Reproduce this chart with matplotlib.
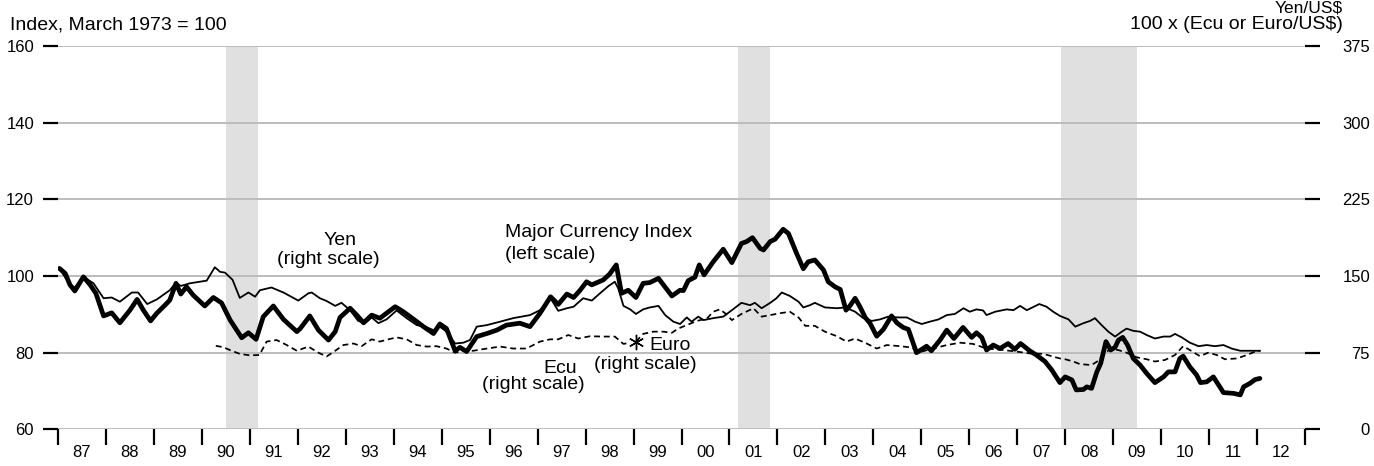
import matplotlib
matplotlib.use("Agg")
import matplotlib.pyplot as plt

plt.rcParams["font.family"] = ["Liberation Sans", "DejaVu Sans"]

# Major Currency Index (left scale, March 1973 = 100)
mci_dates = [1987.03, 1987.15, 1987.25, 1987.35, 1987.53, 1987.67, 1987.79, 1987.95,
             1988.12, 1988.29, 1988.50, 1988.65, 1988.78, 1988.93, 1989.06, 1989.23,
             1989.33, 1989.46, 1989.56, 1989.68, 1989.82, 1990.06, 1990.24, 1990.41,
             1990.59, 1990.83, 1990.97, 1991.13, 1991.28, 1991.49, 1991.70, 1991.98,
             1992.05, 1992.25, 1992.43, 1992.64, 1992.78, 1992.88, 1993.09, 1993.23,
             1993.37, 1993.54, 1993.71, 1994.03, 1994.20, 1994.44, 1994.62, 1994.83,
             1994.96, 1995.10, 1995.28, 1995.38, 1995.52, 1995.73, 1995.94, 1996.15,
             1996.35, 1996.63, 1996.84, 1997.05, 1997.27, 1997.43, 1997.61, 1997.75,
             1997.88, 1998.02, 1998.13, 1998.37, 1998.50, 1998.64, 1998.75, 1998.89,
             1999.05, 1999.20, 1999.34, 1999.52, 1999.80, 1999.97, 2000.04, 2000.14,
             2000.28, 2000.37, 2000.47, 2000.66, 2000.87, 2001.05, 2001.25, 2001.36,
             2001.48, 2001.64, 2001.71, 2001.85, 2001.95, 2002.12, 2002.23, 2002.40,
             2002.54, 2002.64, 2002.78, 2002.96, 2003.06, 2003.20, 2003.31, 2003.43,
             2003.51, 2003.62, 2003.72, 2003.83, 2003.93, 2004.07, 2004.21, 2004.38,
             2004.49, 2004.62, 2004.73, 2004.90, 2005.01, 2005.11, 2005.21, 2005.39,
             2005.53, 2005.68, 2005.87, 2006.05, 2006.15, 2006.26, 2006.36, 2006.50,
             2006.64, 2006.81, 2006.95, 2007.07, 2007.26, 2007.40, 2007.58, 2007.72,
             2007.89, 2008.00, 2008.14, 2008.23, 2008.38, 2008.45, 2008.55, 2008.66,
             2008.74, 2008.85, 2008.95, 2009.04, 2009.11, 2009.20, 2009.30, 2009.42,
             2009.56, 2009.70, 2009.87, 2010.05, 2010.15, 2010.29, 2010.39, 2010.46,
             2010.60, 2010.74, 2010.82, 2010.95, 2011.09, 2011.30, 2011.51, 2011.65,
             2011.72, 2011.85, 2011.96, 2012.06]
mci_values = [102.0, 100.7, 97.7, 96.1, 99.8, 97.7, 95.5, 89.6,
              90.4, 87.8, 91.1, 93.9, 91.1, 88.3, 90.3, 92.4,
              93.7, 98.1, 95.3, 97.2, 95.0, 92.2, 94.4, 93.0,
              88.5, 83.9, 85.2, 83.5, 89.4, 92.2, 88.7, 85.5,
              86.3, 89.6, 85.9, 83.3, 85.5, 89.2, 91.6, 89.8,
              87.8, 89.8, 89.0, 92.0, 90.7, 88.5, 86.8, 85.0,
              87.5, 86.3, 80.5, 81.4, 80.3, 84.2, 85.0, 85.9,
              87.2, 87.7, 86.8, 90.3, 94.6, 92.6, 95.3, 94.4,
              96.2, 98.5, 97.7, 99.0, 100.5, 102.9, 95.5, 96.3,
              94.4, 98.1, 98.3, 99.4, 94.8, 96.3, 96.2, 98.8,
              99.7, 102.9, 100.3, 103.7, 107.0, 103.5, 108.5, 109.0,
              110.0, 107.2, 106.8, 109.0, 109.6, 112.2, 111.1, 105.9,
              101.9, 103.7, 104.2, 101.6, 98.5, 97.2, 96.5, 91.1,
              92.2, 94.2, 92.0, 89.2, 87.7, 84.3, 86.1, 89.6,
              87.8, 86.6, 86.1, 80.0, 80.9, 81.7, 80.5, 83.3,
              85.9, 83.7, 86.6, 84.0, 85.2, 84.0, 80.7, 82.0,
              81.1, 82.4, 80.9, 82.4, 80.5, 79.4, 77.7, 75.5,
              72.2, 73.7, 72.9, 70.3, 70.4, 71.1, 70.7, 75.0,
              77.2, 82.9, 80.7, 81.4, 83.3, 84.0, 82.0, 78.5,
              76.8, 74.6, 72.2, 73.7, 75.0, 75.0, 78.5, 79.1,
              76.3, 74.2, 72.2, 72.4, 73.7, 69.6, 69.4, 69.0,
              71.1, 72.0, 73.0, 73.3]

# Yen per US dollar (right scale)
yen_dates = [1987.03, 1987.25, 1987.35, 1987.53, 1987.74, 1987.95, 1988.12, 1988.29,
             1988.54, 1988.67, 1988.86, 1989.06, 1989.33, 1989.46, 1989.56, 1989.75,
             1990.10, 1990.27, 1990.38, 1990.48, 1990.64, 1990.79, 1990.97, 1991.11,
             1991.21, 1991.45, 1991.70, 1992.01, 1992.22, 1992.29, 1992.46, 1992.60,
             1992.78, 1992.91, 1993.09, 1993.26, 1993.40, 1993.54, 1993.68, 1993.85,
             1994.06, 1994.27, 1994.48, 1994.65, 1994.83, 1994.96, 1995.10, 1995.28,
             1995.45, 1995.59, 1995.73, 1995.94, 1996.22, 1996.49, 1996.84, 1997.05,
             1997.27, 1997.43, 1997.61, 1997.75, 1997.95, 1998.13, 1998.30, 1998.48,
             1998.61, 1998.68, 1998.79, 1998.93, 1999.05, 1999.20, 1999.34, 1999.52,
             1999.66, 1999.83, 1999.97, 2000.11, 2000.21, 2000.35, 2000.46, 2000.66,
             2000.87, 2001.05, 2001.25, 2001.43, 2001.53, 2001.67, 2001.85, 2001.98,
             2002.09, 2002.26, 2002.44, 2002.54, 2002.68, 2002.78, 2002.99, 2003.24,
             2003.41, 2003.62, 2003.79, 2003.97, 2004.14, 2004.31, 2004.52, 2004.70,
             2004.87, 2005.01, 2005.18, 2005.36, 2005.53, 2005.70, 2005.88, 2006.01,
             2006.15, 2006.29, 2006.36, 2006.54, 2006.78, 2006.92, 2007.06, 2007.20,
             2007.46, 2007.61, 2007.75, 2007.89, 2008.07, 2008.21, 2008.38, 2008.52,
             2008.62, 2008.76, 2008.90, 2009.04, 2009.18, 2009.28, 2009.42, 2009.56,
             2009.70, 2009.87, 2010.05, 2010.19, 2010.29, 2010.43, 2010.60, 2010.78,
             2010.95, 2011.12, 2011.30, 2011.47, 2011.65, 2011.85, 2012.06]
yen_values = [157.5, 141.4, 138.8, 149.3, 142.9, 128.3, 129.0, 124.9,
              133.9, 133.9, 122.6, 127.1, 136.1, 143.6, 140.3, 142.9,
              145.5, 158.6, 154.1, 153.4, 146.3, 128.6, 133.9, 129.8,
              136.1, 138.8, 133.9, 126.0, 133.1, 133.9, 128.3, 125.6,
              120.8, 123.8, 116.6, 106.1, 103.9, 109.5, 103.9, 107.6,
              116.3, 108.8, 102.0, 100.5, 97.1, 100.5, 95.6, 84.0,
              84.8, 87.4, 100.5, 102.0, 105.4, 108.8, 111.8, 116.6,
              128.3, 116.0, 118.5, 120.0, 128.3, 126.0, 133.1, 140.3,
              144.4, 138.0, 120.8, 117.4, 112.9, 117.4, 119.3, 120.8,
              111.8, 105.4, 103.1, 109.5, 105.4, 110.3, 106.9, 108.8,
              110.3, 116.6, 123.8, 121.5, 123.8, 118.5, 123.8, 128.3,
              133.9, 130.5, 124.9, 119.3, 121.5, 123.8, 119.3, 118.5,
              119.3, 115.1, 108.8, 106.1, 107.6, 110.3, 109.5, 109.5,
              105.4, 103.1, 105.4, 107.6, 111.8, 112.9, 118.5, 115.1,
              117.4, 116.3, 111.8, 115.1, 117.4, 116.6, 120.8, 116.6,
              122.6, 120.0, 115.1, 111.0, 107.6, 100.5, 103.9, 106.1,
              108.8, 102.0, 95.6, 90.8, 95.6, 98.6, 96.4, 95.6,
              92.3, 88.9, 90.8, 90.8, 93.4, 90.0, 84.8, 81.4,
              82.5, 81.4, 82.5, 79.1, 76.9, 76.9, 76.9]

# 100 x Ecu per US dollar (right scale)
ecu_dates = [1990.29, 1990.45, 1990.62, 1990.79, 1991.00, 1991.20, 1991.35, 1991.56,
             1991.77, 1991.98, 1992.22, 1992.43, 1992.60, 1992.78, 1992.95, 1993.16,
             1993.33, 1993.54, 1993.71, 1993.89, 1994.06, 1994.27, 1994.48, 1994.69,
             1994.89, 1995.10, 1995.28, 1995.45, 1995.66, 1995.94, 1996.22, 1996.49,
             1996.77, 1997.05, 1997.26, 1997.43, 1997.64, 1997.85, 1998.09, 1998.37,
             1998.61, 1998.79, 1998.93]
ecu_values = [81.8, 80.3, 76.9, 73.9, 72.4, 72.8, 85.9, 87.4,
              82.5, 76.9, 81.0, 75.0, 71.3, 76.9, 82.5, 84.0,
              81.4, 88.1, 85.9, 88.1, 90.0, 88.1, 82.5, 81.0,
              81.4, 79.1, 75.0, 76.9, 76.9, 79.1, 81.0, 79.1,
              79.1, 85.9, 88.1, 88.1, 92.3, 88.9, 91.1, 90.8,
              90.8, 83.6, 84.8]

# 100 x Euro per US dollar (right scale)
euro_dates = [1999.05, 1999.20, 1999.41, 1999.62, 1999.80, 1999.93, 2000.11, 2000.32,
              2000.53, 2000.66, 2000.80, 2000.91, 2001.05, 2001.25, 2001.50, 2001.67,
              2001.85, 2002.05, 2002.26, 2002.44, 2002.58, 2002.78, 2002.99, 2003.24,
              2003.44, 2003.62, 2003.86, 2004.07, 2004.28, 2004.56, 2004.76, 2005.01,
              2005.25, 2005.53, 2005.81, 2006.08, 2006.36, 2006.71, 2006.99, 2007.26,
              2007.54, 2007.89, 2008.00, 2008.17, 2008.31, 2008.55, 2008.69, 2008.80,
              2008.94, 2009.11, 2009.28, 2009.49, 2009.70, 2009.87, 2010.08, 2010.29,
              2010.46, 2010.60, 2010.81, 2010.98, 2011.16, 2011.33, 2011.58, 2011.79,
              2011.96, 2012.06]
euro_values = [85.9, 93.4, 95.6, 95.6, 94.5, 98.6, 102.0, 106.1,
               108.4, 115.1, 117.4, 113.6, 106.9, 112.9, 118.5, 110.3,
               111.8, 113.6, 115.1, 109.5, 101.3, 101.3, 95.6, 91.1,
               85.9, 88.9, 84.0, 79.1, 82.5, 81.4, 80.3, 76.1,
               79.1, 82.5, 84.8, 83.6, 79.1, 77.6, 76.1, 74.3,
               73.9, 69.4, 68.6, 66.4, 63.8, 63.0, 67.1, 73.9,
               78.4, 77.6, 75.0, 70.5, 68.6, 66.4, 67.9, 72.8,
               81.4, 77.6, 71.6, 75.0, 72.8, 68.6, 69.4, 72.8,
               76.1, 76.9]

# Recession periods
recessions = [(1990.50, 1991.17), (2001.17, 2001.84), (2007.92, 2009.50)]

years = list(range(1987, 2013))
year_labels = ["%02d" % (y % 100) for y in years]
left_ticks = [60, 80, 100, 120, 140, 160]
right_ticks = [0, 75, 150, 225, 300, 375]

W, H = 1374, 466
px = 72.0 / 100  # points per pixel at 100 dpi

fig = plt.figure(figsize=(W / 100, H / 100), dpi=100)
ax_l, ax_r, ax_t, ax_b = 58, 1305, 46, 429.4
ax = fig.add_axes([ax_l / W, (H - ax_b) / H, (ax_r - ax_l) / W, (ax_b - ax_t) / H])
ax.set_xlim(1987, 2013)
ax.set_ylim(60, 160)
for s in ax.spines.values():
    s.set_visible(False)

for start, end in recessions:
    ax.axvspan(start, end, color="#e0e0e0", lw=0, zorder=0)
for v in left_ticks:
    ax.axhline(v, color="#bdbdbd", lw=2 * px, zorder=1)

tick_fs = 12
ax.set_yticks(left_ticks)
ax.tick_params(axis="y", direction="out", length=15 * px, width=2.2 * px,
               pad=9 * px, labelsize=tick_fs, colors="black")

ax.set_xticks(list(range(1987, 2014)))
ax.set_xticklabels([])
ax.set_xticks([y + 0.5 for y in years], minor=True)
ax.set_xticklabels(year_labels, minor=True)
ax.tick_params(axis="x", which="major", direction="out", length=16 * px,
               width=2.2 * px)
ax.tick_params(axis="x", which="minor", length=0, pad=16 * px, labelsize=tick_fs)

ax.plot(mci_dates, mci_values, color="black", lw=3.4,
        solid_joinstyle="round", solid_capstyle="round", zorder=5)

ax2 = ax.twinx()
ax2.set_ylim(0, 375)
for s in ax2.spines.values():
    s.set_visible(False)
ax2.set_yticks(right_ticks)
ax2.tick_params(axis="y", direction="out", length=15 * px, width=2.2 * px,
                pad=50 * px, labelsize=tick_fs)
for lab in ax2.get_yticklabels():
    lab.set_horizontalalignment("right")

ax2.plot(yen_dates, yen_values, color="black", lw=1.3, zorder=4)
ax2.plot(ecu_dates, ecu_values, color="black", lw=1.25,
         linestyle=(0, (3.4, 2.2)), zorder=4)
ax2.plot(euro_dates, euro_values, color="black", lw=1.25,
         linestyle=(0, (3.4, 2.2)), zorder=4)
ax2.plot(euro_dates[0], euro_values[0], marker=(6, 2, 0), markersize=11,
         color="black", mew=1.0, zorder=6)

fs = 14
ax.text(1992.88, 109.3, "Yen", ha="center", va="center", fontsize=fs)
ax.text(1992.63, 104.4, "(right scale)", ha="center", va="center", fontsize=fs)
ax.text(1996.32, 111.3, "Major Currency Index", ha="left", va="center", fontsize=fs)
ax.text(1996.32, 105.7, "(left scale)", ha="left", va="center", fontsize=fs)
ax.text(1999.34, 82.0, "Euro", ha="left", va="center", fontsize=fs)
ax.text(1999.25, 76.8, "(right scale)", ha="center", va="center", fontsize=fs)
ax.text(1997.47, 75.8, "Ecu", ha="center", va="center", fontsize=fs)
ax.text(1996.91, 71.6, "(right scale)", ha="center", va="center", fontsize=fs)

fig.text(10 / W, (H - 29) / H, "Index, March 1973 = 100", ha="left",
         va="baseline", fontsize=fs)
fig.text(1343 / W, (H - 29) / H, "100 x (Ecu or Euro/US$)", ha="right",
         va="baseline", fontsize=fs)
fig.text(1343 / W, (H - 12.5) / H, "Yen/US$", ha="right", va="baseline",
         fontsize=12.5)

fig.savefig("out.png", dpi=100)
